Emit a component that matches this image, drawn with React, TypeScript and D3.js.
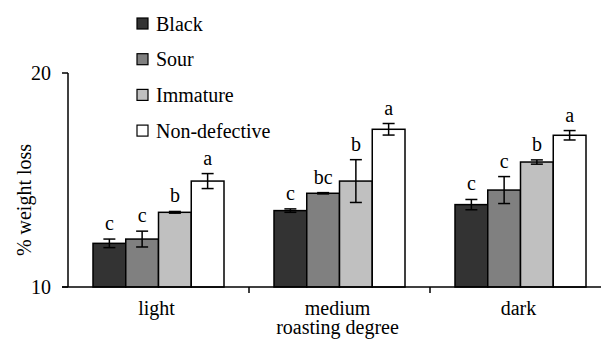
import * as d3 from "d3";

// roasting degree groups and defect series
const categories = ["light", "medium", "dark"];
const categoryLines = [["light"], ["medium", "roasting degree"], ["dark"]];
const series = ["Black", "Sour", "Immature", "Non-defective"];
const colors = ["#333333", "#808080", "#c0c0c0", "#ffffff"];

// mean % weight loss per series, one value per category
const means = [
  [12.04, 13.57, 13.85],
  [12.24, 14.38, 14.53],
  [13.49, 14.95, 15.84],
  [14.95, 17.37, 17.09],
];
const errors = [
  [0.2, 0.08, 0.24],
  [0.37, 0.03, 0.63],
  [0.04, 1.0, 0.1],
  [0.35, 0.27, 0.22],
];
const letters = [
  ["c", "c", "c"],
  ["c", "bc", "c"],
  ["b", "b", "b"],
  ["a", "a", "a"],
];
const yTicks = [10, 20];

const width = 601;
const height = 340;
const txt = { fontFamily: "Liberation Serif", fontSize: "20px" };

export default function App() {
  const x = d3.scaleBand().domain(categories).range([68, 611]).padding(0);
  const inner = d3.scaleBand().domain(series).range([25, 156]).padding(0);
  const y = d3.scaleLinear().domain([10, 20]).range([287, 73]);
  const y0 = y(10);

  return (
    <svg
      width={width}
      height={height}
      style={{ position: "absolute", left: 0, top: 0, background: "#fff" }}
    >
      {/* bars */}
      {series.map((s, si) =>
        categories.map((c, ci) => {
          const bx = (x(c) ?? 0) + (inner(s) ?? 0);
          const bw = inner.bandwidth();
          const v = means[si][ci];
          const e = errors[si][ci];
          const cx = bx + bw / 2;
          return (
            <g key={s + c}>
              <rect
                x={bx}
                y={y(v)}
                width={bw}
                height={y0 - y(v)}
                fill={colors[si]}
                stroke="#000"
                strokeWidth={1.5}
              />
              <g stroke="#000" strokeWidth={1.5}>
                <line x1={cx} x2={cx} y1={y(v + e)} y2={y(v - e)} />
                <line x1={cx - 6} x2={cx + 6} y1={y(v + e)} y2={y(v + e)} />
                <line x1={cx - 6} x2={cx + 6} y1={y(v - e)} y2={y(v - e)} />
              </g>
              <text x={cx} y={y(v + e) - 9} textAnchor="middle" style={txt} fill="#000">
                {letters[si][ci]}
              </text>
            </g>
          );
        })
      )}

      {/* y axis */}
      <line x1={68} x2={68} y1={y(20)} y2={y0} stroke="#000" strokeWidth={1.5} />
      {yTicks.map((t) => (
        <g key={t}>
          <line x1={62} x2={68} y1={y(t)} y2={y(t)} stroke="#000" strokeWidth={1.5} />
          <text x={51} y={y(t) + 7} textAnchor="end" style={txt} fill="#000">
            {t}
          </text>
        </g>
      ))}
      <text
        transform="translate(31,200) rotate(-90)"
        textAnchor="middle"
        style={txt}
        fill="#000"
      >
        % weight loss
      </text>

      {/* x axis */}
      <line x1={62} x2={601} y1={y0} y2={y0} stroke="#000" strokeWidth={1.5} />
      {categories.slice(1).map((c) => (
        <line
          key={c}
          x1={x(c)}
          x2={x(c)}
          y1={y0}
          y2={y0 + 6}
          stroke="#000"
          strokeWidth={1.5}
        />
      ))}
      {categories.map((c, ci) =>
        categoryLines[ci].map((line, li) => (
          <text
            key={c + li}
            x={(x(c) ?? 0) + x.bandwidth() / 2 - 2}
            y={315 + li * 19}
            textAnchor="middle"
            style={txt}
            fill="#000"
          >
            {line}
          </text>
        ))
      )}

      {/* legend */}
      {series.map((s, si) => (
        <g key={s} transform={`translate(137,${18 + si * 35.7})`}>
          <rect width={11} height={11} fill={colors[si]} stroke="#000" strokeWidth={1.2} />
          <text x={19} y={12.5} style={txt} fill="#000">
            {s}
          </text>
        </g>
      ))}
    </svg>
  );
}
